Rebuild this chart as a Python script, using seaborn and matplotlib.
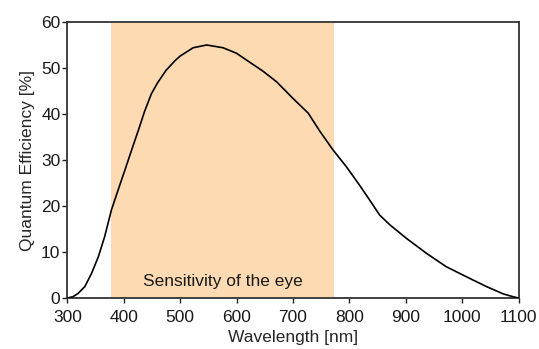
import matplotlib
matplotlib.use("Agg")
import matplotlib.pyplot as plt
import seaborn as sns
import pandas as pd

# Quantum efficiency curve of the sensor
wavelength_nm = [300, 310, 319, 331, 343, 355, 366, 378, 390, 402, 414, 426, 437, 449,
                 460, 475, 491, 500, 523, 547, 576, 600, 624, 647, 671, 700, 727, 748, 771,
                 795, 816, 830, 854, 872, 901, 937, 972, 1008, 1043, 1073, 1090, 1100]
qe_percent = [0.0, 0.3, 1.0, 2.5, 5.4, 9.0, 13.3, 19.1, 23.5, 27.8, 32.2, 36.5, 40.6, 44.4,
              46.8, 49.5, 51.6, 52.6, 54.4, 55.0, 54.4, 53.2, 51.2, 49.3, 47.0, 43.4, 40.2, 36.2,
              32.2, 28.5, 24.9, 22.4, 18.0, 15.9, 13.0, 9.7, 6.8, 4.6, 2.5, 0.9, 0.3, 0.0]

# Visible range of the human eye
eye_range = [378, 772]
eye_label = "Sensitivity of the eye"

x_ticks = [300, 400, 500, 600, 700, 800, 900, 1000, 1100]
y_ticks = [0, 10, 20, 30, 40, 50, 60]

sns.set_style("ticks")
plt.rcParams["font.family"] = ["Liberation Sans", "DejaVu Sans"]

df = pd.DataFrame({"Wavelength": wavelength_nm, "QE": qe_percent})

fig = plt.figure(figsize=(5.39, 3.49), dpi=100)
ax = fig.add_axes([0.125, 0.146, 0.837, 0.791])

ax.axvspan(eye_range[0], eye_range[1], color="#FDDAB2", lw=0, zorder=0)
sns.lineplot(data=df, x="Wavelength", y="QE", ax=ax, color="black", lw=1.2, zorder=3)

fs = 12.5
ax.text(sum(eye_range) / 2, 3.7, eye_label, ha="center", va="center",
        fontsize=fs, color="#1a1a1a")

ax.set_xlim(300, 1100)
ax.set_ylim(0, 60)
ax.set_xticks(x_ticks)
ax.set_yticks(y_ticks)
ax.set_xlabel("Wavelength [nm]", fontsize=fs, labelpad=4)
ax.set_ylabel("Quantum Efficiency [%]", fontsize=fs, labelpad=4)
ax.tick_params(axis="both", labelsize=fs, length=3.5, width=1, color="#222222",
               labelcolor="#1a1a1a")
ax.tick_params(axis="x", pad=5)
ax.tick_params(axis="y", pad=1.5)
for s in ax.spines.values():
    s.set_color("#333333")
    s.set_linewidth(1.3)
    s.set_visible(True)

fig.savefig("out.png", dpi=100)
